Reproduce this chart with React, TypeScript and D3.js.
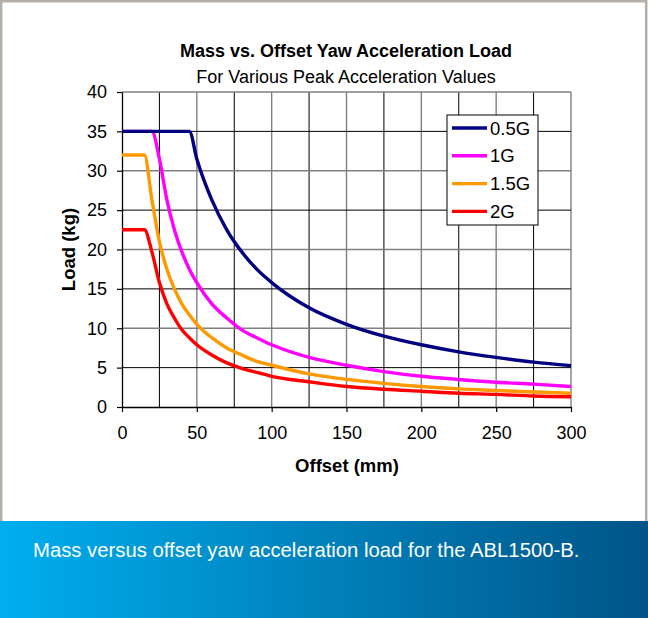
import { useEffect, useRef } from "react";
import * as d3 from "d3";

// offsets (mm) where the curves were read
const offsets = [0, 5, 10, 15, 20, 25, 30, 35, 40, 45, 50, 60, 70, 80, 90, 100, 125, 150, 175, 200, 225, 250, 275, 300];

// load (kg) for each acceleration
const load05G = [35, 35, 35, 35, 35, 35, 35, 35, 35, 35, 31.5, 26.3, 22.5, 19.7, 17.5, 15.8, 12.6, 10.5, 9.0, 7.9, 7.0, 6.3, 5.7, 5.25];
const load1G = [35, 35, 35, 35, 35, 31.5, 26.3, 22.5, 19.7, 17.5, 15.8, 13.1, 11.3, 9.8, 8.8, 7.9, 6.3, 5.3, 4.5, 3.9, 3.5, 3.15, 2.9, 2.6];
const load15G = [32, 32, 32, 32, 26.3, 21, 17.5, 15, 13.1, 11.7, 10.5, 8.8, 7.5, 6.6, 5.8, 5.3, 4.2, 3.5, 3.0, 2.6, 2.3, 2.1, 1.9, 1.75];
const load2G = [22.5, 22.5, 22.5, 22.5, 19.7, 15.8, 13.1, 11.3, 9.8, 8.8, 7.9, 6.6, 5.6, 4.9, 4.4, 3.9, 3.2, 2.6, 2.25, 2.0, 1.75, 1.6, 1.4, 1.3];

const seriesNames = ["0.5G", "1G", "1.5G", "2G"];
const seriesColors = ["#000080", "#ff00ff", "#ff9900", "#ff0000"];

const xTicks = [0, 50, 100, 150, 200, 250, 300];
const yTicks = [0, 5, 10, 15, 20, 25, 30, 35, 40];

const FONT = "'Liberation Sans', Arial, sans-serif";

export default function App() {
  const svgRef = useRef<SVGSVGElement>(null);

  useEffect(() => {
    if (!svgRef.current) return;
    const svg = d3.select(svgRef.current);
    svg.selectAll("*").remove();

    const width = 648;
    const height = 618;
    const plot = { left: 122, right: 571, top: 92, bottom: 407 };

    const x = d3.scaleLinear().domain([0, 300]).range([plot.left, plot.right]);
    const y = d3.scaleLinear().domain([0, 40]).range([plot.bottom, plot.top]);

    // background + frame
    svg.append("rect").attr("width", width).attr("height", height).attr("fill", "#ffffff");
    svg
      .append("rect")
      .attr("x", 1.2)
      .attr("y", 1.2)
      .attr("width", 645)
      .attr("height", 530)
      .attr("fill", "none")
      .attr("stroke", "#b3aea6")
      .attr("stroke-width", 2.5);

    // bottom caption band
    const defs = svg.append("defs");
    const grad = defs
      .append("linearGradient")
      .attr("id", "band-gradient")
      .attr("x1", "0%")
      .attr("x2", "100%");
    grad.append("stop").attr("offset", "0%").attr("stop-color", "#00aeef");
    grad.append("stop").attr("offset", "100%").attr("stop-color", "#005487");

    svg
      .append("rect")
      .attr("x", 0)
      .attr("y", 521)
      .attr("width", width)
      .attr("height", height - 521)
      .attr("fill", "url(#band-gradient)");

    svg
      .append("text")
      .attr("x", 33)
      .attr("y", 557)
      .attr("fill", "#ffffff")
      .style("font-family", FONT)
      .style("font-size", "20.3px")
      .text("Mass versus offset yaw acceleration load for the ABL1500-B.");

    // gridlines: minor black, major gray
    const xGrid = d3.range(25, 301, 25);
    const yGrid = d3.range(5, 41, 5);

    svg
      .append("g")
      .selectAll("line")
      .data(xGrid)
      .enter()
      .append("line")
      .attr("x1", (d) => x(d))
      .attr("x2", (d) => x(d))
      .attr("y1", plot.top)
      .attr("y2", plot.bottom)
      .attr("stroke", (d) => (d % 50 === 0 ? "#808080" : "#000000"))
      .attr("stroke-width", (d) => (d % 50 === 0 ? 1.4 : 1));

    svg
      .append("g")
      .selectAll("line")
      .data(yGrid)
      .enter()
      .append("line")
      .attr("x1", plot.left)
      .attr("x2", plot.right)
      .attr("y1", (d) => y(d))
      .attr("y2", (d) => y(d))
      .attr("stroke", (d) => (d % 10 === 0 ? "#808080" : "#000000"))
      .attr("stroke-width", (d) => (d % 10 === 0 ? 1.4 : 1));

    // axes
    const xAxis = svg
      .append("g")
      .attr("transform", `translate(0, ${plot.bottom})`)
      .call(d3.axisBottom(x).tickValues(xTicks).tickSize(5).tickPadding(14).tickSizeOuter(0));
    const yAxis = svg
      .append("g")
      .attr("transform", `translate(${plot.left}, 0)`)
      .call(d3.axisLeft(y).tickValues(yTicks).tickSize(5).tickPadding(10).tickSizeOuter(0));

    [xAxis, yAxis].forEach((g) => {
      g.select(".domain").attr("stroke", "#000000").attr("stroke-width", 1.3);
      g.selectAll(".tick line").attr("stroke", "#000000").attr("stroke-width", 1.2);
      g.selectAll("text")
        .attr("fill", "#000000")
        .style("font-family", FONT)
        .style("font-size", "18px");
    });

    // series lines
    const allSeries = [load05G, load1G, load15G, load2G];
    const line = d3
      .line<number>()
      .x((_, i) => x(offsets[i]))
      .y((d) => y(d))
      .curve(d3.curveMonotoneX);

    // draw in reverse so 0.5G sits on top where lines overlap at 35
    allSeries
      .map((vals, i) => ({ vals, i }))
      .reverse()
      .forEach(({ vals, i }) => {
        svg
          .append("path")
          .datum(vals)
          .attr("d", line)
          .attr("fill", "none")
          .attr("stroke", seriesColors[i])
          .attr("stroke-width", 3.4)
          .attr("stroke-linejoin", "round");
      });

    // legend
    const lg = svg.append("g").attr("transform", "translate(447, 115)");
    lg.append("rect")
      .attr("width", 91)
      .attr("height", 110)
      .attr("fill", "#ffffff")
      .attr("stroke", "#000000")
      .attr("stroke-width", 1);
    seriesNames.forEach((name, i) => {
      const ly = 13 + i * 27.8;
      lg.append("line")
        .attr("x1", 5)
        .attr("x2", 40)
        .attr("y1", ly)
        .attr("y2", ly)
        .attr("stroke", seriesColors[i])
        .attr("stroke-width", 3.4);
      lg.append("text")
        .attr("x", 43)
        .attr("y", ly + 6.5)
        .attr("fill", "#000000")
        .style("font-family", FONT)
        .style("font-size", "18.5px")
        .text(name);
    });

    // titles
    svg
      .append("text")
      .attr("x", 346)
      .attr("y", 57)
      .attr("text-anchor", "middle")
      .style("font-family", FONT)
      .style("font-size", "18px")
      .style("font-weight", "bold")
      .text("Mass vs. Offset Yaw Acceleration Load");
    svg
      .append("text")
      .attr("x", 346)
      .attr("y", 83)
      .attr("text-anchor", "middle")
      .style("font-family", FONT)
      .style("font-size", "18px")
      .text("For Various Peak Acceleration Values");
    svg
      .append("text")
      .attr("x", 347)
      .attr("y", 472)
      .attr("text-anchor", "middle")
      .style("font-family", FONT)
      .style("font-size", "18.5px")
      .style("font-weight", "bold")
      .text("Offset (mm)");
    svg
      .append("text")
      .attr("transform", `translate(75, ${(plot.top + plot.bottom) / 2}) rotate(-90)`)
      .attr("text-anchor", "middle")
      .style("font-family", FONT)
      .style("font-size", "18.5px")
      .style("font-weight", "bold")
      .text("Load (kg)");
  }, []);

  return (
    <svg
      ref={svgRef}
      width={648}
      height={618}
      viewBox="0 0 648 618"
      style={{ position: "absolute", left: 0, top: 0, display: "block" }}
    />
  );
}
